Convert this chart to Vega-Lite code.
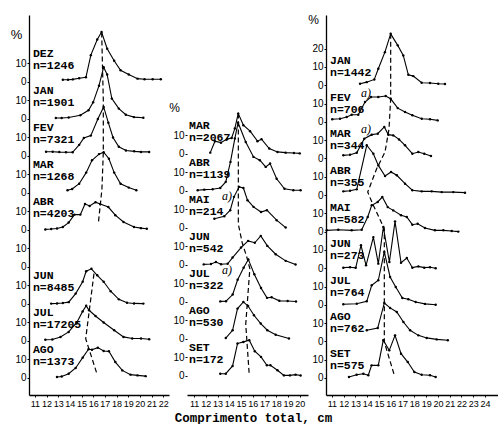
{
"$schema": "https://vega.github.io/schema/vega-lite/v6.json",
"background": "white",
"padding": {"left": 10, "top": 13, "right": 0, "bottom": 0},
"autosize": {"type": "pad"},
"bounds": "flush",
"spacing": 18,
"config": {
 "view": {"stroke": null},
 "axis": {"domainColor": "black", "tickColor": "black", "labelColor": "black", "titleColor": "black", "grid": false, "labelFont": "Liberation Sans Narrow, Liberation Sans", "labelFontSize": 10, "domainWidth": 1.3, "tickWidth": 1, "labelOverlap": false, "labelFlush": false, "tickCount": 60},
 "axisX": {"labelFontSize": 9},
 "text": {"color": "black"}
},
"datasets": {
 "Lm": [
  {"m": "DEZ", "n": "n=1246", "slot": 8},
  {"m": "JAN", "n": "n=1901", "slot": 7},
  {"m": "FEV", "n": "n=7321", "slot": 6},
  {"m": "MAR", "n": "n=1268", "slot": 5},
  {"m": "ABR", "n": "n=4203", "slot": 4},
  {"m": "JUN", "n": "n=8485", "slot": 2},
  {"m": "JUL", "n": "n=17205", "slot": 1},
  {"m": "AGO", "n": "n=1373", "slot": 0}
 ],
 "Mm": [
  {"m": "MAR", "n": "n=2067", "slot": 6, "a": ""},
  {"m": "ABR", "n": "n=1139", "slot": 5, "a": ""},
  {"m": "MAI", "n": "n=214", "slot": 4, "a": "a)"},
  {"m": "JUN", "n": "n=542", "slot": 3, "a": ""},
  {"m": "JUL", "n": "n=322", "slot": 2, "a": "a)"},
  {"m": "AGO", "n": "n=530", "slot": 1, "a": ""},
  {"m": "SET", "n": "n=172", "slot": 0, "a": ""}
 ],
 "Rm": [
  {"m": "JAN", "n": "n=1442", "slot": 8, "a": ""},
  {"m": "FEV", "n": "n=706", "slot": 7, "a": "a)"},
  {"m": "MAR", "n": "n=344", "slot": 6, "a": "a)"},
  {"m": "ABR", "n": "n=355", "slot": 5, "a": ""},
  {"m": "MAI", "n": "n=582", "slot": 4, "a": ""},
  {"m": "JUN", "n": "n=273", "slot": 3, "a": ""},
  {"m": "JUL", "n": "n=764", "slot": 2, "a": ""},
  {"m": "AGO", "n": "n=762", "slot": 1, "a": ""},
  {"m": "SET", "n": "n=575", "slot": 0, "a": ""}
 ],
 "Lc": [
  {"m":"DEZ","x":13.4,"v":1.2},{"m":"DEZ","x":13.85,"v":1.2},{"m":"DEZ","x":14.25,"v":1.4},{"m":"DEZ","x":14.8,"v":2.0},{"m":"DEZ","x":15.38,"v":2.5},{"m":"DEZ","x":15.8,"v":14.5},{"m":"DEZ","x":16.35,"v":23},{"m":"DEZ","x":16.72,"v":27},{"m":"DEZ","x":17.2,"v":18},{"m":"DEZ","x":17.8,"v":11.5},{"m":"DEZ","x":18.35,"v":6.3},{"m":"DEZ","x":19.05,"v":4},{"m":"DEZ","x":19.8,"v":1.8},{"m":"DEZ","x":20.4,"v":1.5},{"m":"DEZ","x":21.1,"v":1.5},{"m":"DEZ","x":21.8,"v":1.5},
  {"m":"JAN","x":12.8,"v":0.5},{"m":"JAN","x":13.3,"v":0.5},{"m":"JAN","x":13.9,"v":0.8},{"m":"JAN","x":14.9,"v":2},{"m":"JAN","x":15.6,"v":4.7},{"m":"JAN","x":16.0,"v":9},{"m":"JAN","x":16.5,"v":18},{"m":"JAN","x":16.9,"v":28},{"m":"JAN","x":17.2,"v":24},{"m":"JAN","x":17.6,"v":11},{"m":"JAN","x":18.2,"v":5.6},{"m":"JAN","x":18.8,"v":2.3},{"m":"JAN","x":19.5,"v":1},{"m":"JAN","x":20.3,"v":0.7},
  {"m":"FEV","x":11.96,"v":2.3},{"m":"FEV","x":12.53,"v":2.3},{"m":"FEV","x":13.1,"v":2.1},{"m":"FEV","x":13.67,"v":2},{"m":"FEV","x":14.24,"v":2},{"m":"FEV","x":14.8,"v":6},{"m":"FEV","x":15.2,"v":9.7},{"m":"FEV","x":15.8,"v":11},{"m":"FEV","x":16.4,"v":20},{"m":"FEV","x":16.9,"v":26.5},{"m":"FEV","x":17.3,"v":18},{"m":"FEV","x":17.7,"v":10},{"m":"FEV","x":18.2,"v":5},{"m":"FEV","x":18.81,"v":3},{"m":"FEV","x":19.52,"v":2.5},{"m":"FEV","x":20.1,"v":2.2},{"m":"FEV","x":20.8,"v":2.2},
  {"m":"MAR","x":13.8,"v":1.5},{"m":"MAR","x":14.2,"v":2.2},{"m":"MAR","x":14.8,"v":5},{"m":"MAR","x":15.4,"v":11},{"m":"MAR","x":15.9,"v":17.7},{"m":"MAR","x":16.5,"v":21},{"m":"MAR","x":16.9,"v":22},{"m":"MAR","x":17.35,"v":18.5},{"m":"MAR","x":17.8,"v":11},{"m":"MAR","x":18.35,"v":5},{"m":"MAR","x":19.05,"v":2.9},{"m":"MAR","x":19.7,"v":1.5},
  {"m":"ABR","x":11.9,"v":0.3},{"m":"ABR","x":12.4,"v":0.5},{"m":"ABR","x":12.9,"v":0.8},{"m":"ABR","x":13.4,"v":1.6},{"m":"ABR","x":13.9,"v":4},{"m":"ABR","x":14.4,"v":8.3},{"m":"ABR","x":14.9,"v":8.3},{"m":"ABR","x":15.3,"v":14},{"m":"ABR","x":15.7,"v":13},{"m":"ABR","x":16.2,"v":15},{"m":"ABR","x":16.6,"v":14},{"m":"ABR","x":17.3,"v":12.4},{"m":"ABR","x":17.9,"v":8},{"m":"ABR","x":18.6,"v":4.3},{"m":"ABR","x":19.5,"v":1.6},{"m":"ABR","x":20.1,"v":1},{"m":"ABR","x":20.6,"v":0.7},
  {"m":"JUN","x":12.4,"v":0.2},{"m":"JUN","x":12.9,"v":0.3},{"m":"JUN","x":13.4,"v":0.5},{"m":"JUN","x":13.9,"v":1},{"m":"JUN","x":14.5,"v":5.6},{"m":"JUN","x":15.1,"v":12},{"m":"JUN","x":15.4,"v":17.7},{"m":"JUN","x":15.85,"v":19},{"m":"JUN","x":16.35,"v":15.5},{"m":"JUN","x":16.9,"v":12},{"m":"JUN","x":17.5,"v":6.9},{"m":"JUN","x":18.2,"v":2.5},{"m":"JUN","x":18.9,"v":0.7},{"m":"JUN","x":19.5,"v":0.3},{"m":"JUN","x":20.3,"v":0.2},
  {"m":"JUL","x":11.9,"v":0.7},{"m":"JUL","x":12.5,"v":0.8},{"m":"JUL","x":13.2,"v":2.2},{"m":"JUL","x":13.9,"v":4.9},{"m":"JUL","x":14.6,"v":10},{"m":"JUL","x":15.1,"v":16},{"m":"JUL","x":15.4,"v":19},{"m":"JUL","x":15.65,"v":16.6},{"m":"JUL","x":16.2,"v":13.5},{"m":"JUL","x":16.9,"v":10},{"m":"JUL","x":17.8,"v":5.8},{"m":"JUL","x":18.6,"v":2.2},{"m":"JUL","x":19.35,"v":1.3},{"m":"JUL","x":20.1,"v":1.3},{"m":"JUL","x":20.8,"v":0.9},
  {"m":"AGO","x":12.9,"v":0.5},{"m":"AGO","x":13.3,"v":0.8},{"m":"AGO","x":13.9,"v":2.3},{"m":"AGO","x":14.5,"v":5.4},{"m":"AGO","x":15.1,"v":11},{"m":"AGO","x":15.6,"v":15.5},{"m":"AGO","x":15.9,"v":15.3},{"m":"AGO","x":16.4,"v":16.4},{"m":"AGO","x":16.9,"v":14.6},{"m":"AGO","x":17.35,"v":14.4},{"m":"AGO","x":17.9,"v":8.6},{"m":"AGO","x":18.5,"v":4.1},{"m":"AGO","x":19.2,"v":1.8},{"m":"AGO","x":19.8,"v":1.4},{"m":"AGO","x":20.5,"v":1}
 ],
 "Mc": [
  {"m":"MAR","x":12.38,"v":0.7},{"m":"MAR","x":12.78,"v":6.9},{"m":"MAR","x":13.29,"v":6.1},{"m":"MAR","x":13.8,"v":8},{"m":"MAR","x":14.2,"v":8.6},{"m":"MAR","x":14.47,"v":13.7},{"m":"MAR","x":14.76,"v":21.8},{"m":"MAR","x":15.2,"v":15.5},{"m":"MAR","x":15.77,"v":12.3},{"m":"MAR","x":16.4,"v":6.9},{"m":"MAR","x":16.74,"v":8},{"m":"MAR","x":17.4,"v":2.9},{"m":"MAR","x":18.1,"v":1.1},{"m":"MAR","x":18.8,"v":0.7},{"m":"MAR","x":19.5,"v":0.5},{"m":"MAR","x":20.0,"v":0.3},
  {"m":"ABR","x":11.31,"v":0.4},{"m":"ABR","x":11.87,"v":0.7},{"m":"ABR","x":12.58,"v":0.9},{"m":"ABR","x":13.23,"v":1.6},{"m":"ABR","x":13.7,"v":4.9},{"m":"ABR","x":14.1,"v":15.7},{"m":"ABR","x":14.47,"v":28.3},{"m":"ABR","x":14.75,"v":36.9},{"m":"ABR","x":15.4,"v":26.5},{"m":"ABR","x":16.06,"v":18.4},{"m":"ABR","x":16.6,"v":16.6},{"m":"ABR","x":17.1,"v":13},{"m":"ABR","x":17.47,"v":14.8},{"m":"ABR","x":18.03,"v":6.6},{"m":"ABR","x":18.7,"v":1.2},{"m":"ABR","x":19.45,"v":0.4},{"m":"ABR","x":20.07,"v":0.4},
  {"m":"MAI","x":12.73,"v":5},{"m":"MAI","x":13.57,"v":6.3},{"m":"MAI","x":14.08,"v":9.6},{"m":"MAI","x":14.4,"v":16.8},{"m":"MAI","x":14.84,"v":22.2},{"m":"MAI","x":15.2,"v":21.6},{"m":"MAI","x":15.55,"v":15},{"m":"MAI","x":16.06,"v":11.4},{"m":"MAI","x":16.7,"v":8.6},{"m":"MAI","x":17.2,"v":9.6},{"m":"MAI","x":18.03,"v":4.2},{"m":"MAI","x":18.8,"v":0.2},
  {"m":"JUN","x":11.82,"v":0.3},{"m":"JUN","x":12.44,"v":0.5},{"m":"JUN","x":12.86,"v":1.6},{"m":"JUN","x":13.3,"v":0.4},{"m":"JUN","x":13.86,"v":0.6},{"m":"JUN","x":14.28,"v":4},{"m":"JUN","x":15.0,"v":9.4},{"m":"JUN","x":15.6,"v":13},{"m":"JUN","x":16.17,"v":12},{"m":"JUN","x":16.68,"v":15.7},{"m":"JUN","x":17.24,"v":10.3},{"m":"JUN","x":17.95,"v":5.8},{"m":"JUN","x":18.8,"v":2.2},{"m":"JUN","x":19.64,"v":0.2},
  {"m":"JUL","x":13.23,"v":0.3},{"m":"JUL","x":13.72,"v":0.4},{"m":"JUL","x":14.29,"v":4},{"m":"JUL","x":14.71,"v":12},{"m":"JUL","x":15.22,"v":18.5},{"m":"JUL","x":15.62,"v":23},{"m":"JUL","x":16.13,"v":15},{"m":"JUL","x":16.7,"v":7.5},{"m":"JUL","x":17.21,"v":2.2},{"m":"JUL","x":17.6,"v":2.5},{"m":"JUL","x":18.26,"v":0.6},{"m":"JUL","x":18.97,"v":0.5},{"m":"JUL","x":19.68,"v":0.2},
  {"m":"AGO","x":13.7,"v":0.5},{"m":"AGO","x":14.28,"v":4.7},{"m":"AGO","x":14.7,"v":16.4},{"m":"AGO","x":15.2,"v":20},{"m":"AGO","x":15.6,"v":17.8},{"m":"AGO","x":16.1,"v":12.8},{"m":"AGO","x":16.68,"v":8.3},{"m":"AGO","x":17.24,"v":4.7},{"m":"AGO","x":17.95,"v":2.3},{"m":"AGO","x":19.08,"v":0.2},
  {"m":"SET","x":13.23,"v":1.2},{"m":"SET","x":13.7,"v":1.2},{"m":"SET","x":14.28,"v":5.4},{"m":"SET","x":14.7,"v":17.5},{"m":"SET","x":15.2,"v":18.4},{"m":"SET","x":15.7,"v":19.3},{"m":"SET","x":16.17,"v":13.4},{"m":"SET","x":16.7,"v":10.3},{"m":"SET","x":17.2,"v":5.8},{"m":"SET","x":17.5,"v":5.8},{"m":"SET","x":18.1,"v":3.1},{"m":"SET","x":18.65,"v":0.3},{"m":"SET","x":19.16,"v":0.3},{"m":"SET","x":19.64,"v":0.7},{"m":"SET","x":20.07,"v":0.2}
 ],
 "Rc": [
  {"m":"JAN","x":13.39,"v":0.8},{"m":"JAN","x":13.95,"v":1.7},{"m":"JAN","x":14.6,"v":3.2},{"m":"JAN","x":14.94,"v":9},{"m":"JAN","x":15.5,"v":18.1},{"m":"JAN","x":15.99,"v":28.1},{"m":"JAN","x":16.59,"v":21.8},{"m":"JAN","x":17.06,"v":16.3},{"m":"JAN","x":17.49,"v":5.7},{"m":"JAN","x":17.91,"v":5},{"m":"JAN","x":18.62,"v":1.4},{"m":"JAN","x":19.33,"v":1.2},{"m":"JAN","x":20.03,"v":0.8},{"m":"JAN","x":20.6,"v":0.7},
  {"m":"FEV","x":11.03,"v":1.4},{"m":"FEV","x":11.69,"v":1.7},{"m":"FEV","x":12.26,"v":2.6},{"m":"FEV","x":12.68,"v":3.9},{"m":"FEV","x":13.24,"v":3.9},{"m":"FEV","x":13.81,"v":10.8},{"m":"FEV","x":14.32,"v":13.6},{"m":"FEV","x":14.94,"v":13.6},{"m":"FEV","x":15.57,"v":14.1},{"m":"FEV","x":15.99,"v":12.6},{"m":"FEV","x":16.59,"v":7.5},{"m":"FEV","x":17.21,"v":5.4},{"m":"FEV","x":17.83,"v":3.6},{"m":"FEV","x":18.63,"v":1.7},{"m":"FEV","x":19.33,"v":1.4},{"m":"FEV","x":19.98,"v":0.8},
  {"m":"MAR","x":11.97,"v":1.7},{"m":"MAR","x":12.54,"v":2},{"m":"MAR","x":13.11,"v":3.1},{"m":"MAR","x":13.75,"v":10.8},{"m":"MAR","x":14.38,"v":13},{"m":"MAR","x":14.89,"v":13.5},{"m":"MAR","x":15.45,"v":17.2},{"m":"MAR","x":15.79,"v":13},{"m":"MAR","x":16.21,"v":12.6},{"m":"MAR","x":16.7,"v":10.4},{"m":"MAR","x":17.21,"v":7.2},{"m":"MAR","x":17.83,"v":2.6},{"m":"MAR","x":18.34,"v":3.5},{"m":"MAR","x":18.84,"v":2.6},{"m":"MAR","x":19.41,"v":1.3},
  {"m":"ABR","x":11.97,"v":2},{"m":"ABR","x":12.54,"v":2.3},{"m":"ABR","x":13.11,"v":3.1},{"m":"ABR","x":13.96,"v":27.2},{"m":"ABR","x":14.52,"v":22.6},{"m":"ABR","x":14.94,"v":16.2},{"m":"ABR","x":15.51,"v":10.4},{"m":"ABR","x":16.02,"v":12.6},{"m":"ABR","x":16.51,"v":10.8},{"m":"ABR","x":17.21,"v":6.2},{"m":"ABR","x":17.83,"v":2.6},{"m":"ABR","x":18.63,"v":2},{"m":"ABR","x":19.47,"v":2},{"m":"ABR","x":20.32,"v":1.6},{"m":"ABR","x":21.31,"v":1.6},{"m":"ABR","x":22.3,"v":1.3},
  {"m":"MAI","x":10.56,"v":0.7},{"m":"MAI","x":11.54,"v":1},{"m":"MAI","x":12.68,"v":0.7},{"m":"MAI","x":13.53,"v":1},{"m":"MAI","x":14.04,"v":8},{"m":"MAI","x":14.38,"v":14.4},{"m":"MAI","x":14.89,"v":16.2},{"m":"MAI","x":15.28,"v":18.9},{"m":"MAI","x":15.74,"v":13.4},{"m":"MAI","x":16.21,"v":11.6},{"m":"MAI","x":16.87,"v":8.9},{"m":"MAI","x":17.36,"v":8},{"m":"MAI","x":17.83,"v":3.8},{"m":"MAI","x":18.28,"v":4.3},{"m":"MAI","x":18.9,"v":2},{"m":"MAI","x":19.75,"v":0.7},{"m":"MAI","x":20.46,"v":0.7},{"m":"MAI","x":21.17,"v":0.3},{"m":"MAI","x":21.73,"v":0},
  {"m":"JUN","x":11.97,"v":0.3},{"m":"JUN","x":12.54,"v":0.5},{"m":"JUN","x":13.02,"v":0.2},{"m":"JUN","x":13.47,"v":12.5},{"m":"JUN","x":13.9,"v":1.6},{"m":"JUN","x":14.52,"v":17},{"m":"JUN","x":14.94,"v":2.5},{"m":"JUN","x":15.37,"v":22.5},{"m":"JUN","x":15.88,"v":3.4},{"m":"JUN","x":16.36,"v":25.6},{"m":"JUN","x":16.87,"v":3},{"m":"JUN","x":17.36,"v":5.6},{"m":"JUN","x":17.83,"v":0.3},{"m":"JUN","x":18.34,"v":1},{"m":"JUN","x":18.84,"v":0.3},{"m":"JUN","x":19.33,"v":0.5},{"m":"JUN","x":19.81,"v":0},
  {"m":"JUL","x":11.97,"v":0.3},{"m":"JUL","x":13.11,"v":0.6},{"m":"JUL","x":13.96,"v":1.9},{"m":"JUL","x":14.38,"v":10.7},{"m":"JUL","x":14.94,"v":13.4},{"m":"JUL","x":15.45,"v":28.9},{"m":"JUL","x":15.94,"v":15.2},{"m":"JUL","x":16.42,"v":9.7},{"m":"JUL","x":16.98,"v":3.7},{"m":"JUL","x":17.49,"v":3},{"m":"JUL","x":18.11,"v":1.5},{"m":"JUL","x":18.9,"v":0.5},{"m":"JUL","x":19.81,"v":0},
  {"m":"AGO","x":13.96,"v":6.1},{"m":"AGO","x":14.89,"v":7.3},{"m":"AGO","x":15.45,"v":21},{"m":"AGO","x":15.94,"v":18.3},{"m":"AGO","x":16.51,"v":16.1},{"m":"AGO","x":17.07,"v":10.6},{"m":"AGO","x":17.64,"v":6.1},{"m":"AGO","x":18.34,"v":3.3},{"m":"AGO","x":19.05,"v":1.9},{"m":"AGO","x":19.9,"v":1.1},{"m":"AGO","x":20.84,"v":0.6},
  {"m":"SET","x":12.45,"v":0.5},{"m":"SET","x":13.1,"v":1.8},{"m":"SET","x":13.67,"v":2.3},{"m":"SET","x":14.09,"v":1.5},{"m":"SET","x":14.37,"v":6.9},{"m":"SET","x":14.94,"v":6.9},{"m":"SET","x":15.36,"v":20.6},{"m":"SET","x":15.87,"v":15.1},{"m":"SET","x":16.36,"v":23.3},{"m":"SET","x":16.87,"v":13.3},{"m":"SET","x":17.44,"v":8.7},{"m":"SET","x":18.0,"v":3.3},{"m":"SET","x":18.62,"v":1.8},{"m":"SET","x":19.33,"v":1.5},{"m":"SET","x":19.81,"v":0.5}
 ],
 "Ld": [
  {"g":1,"x":16.73,"y":186.7},{"g":1,"x":16.87,"y":150},{"g":1,"x":16.87,"y":122},{"g":1,"x":16.75,"y":102},{"g":1,"x":16.45,"y":84},
  {"g":2,"x":16.07,"y":56.4},{"g":2,"x":15.36,"y":21.2},{"g":2,"x":16.36,"y":1.5}
 ],
 "Md": [
  {"g":1,"x":14.77,"y":141.8},{"g":1,"x":14.77,"y":82},{"g":1,"x":15.1,"y":72},{"g":1,"x":15.5,"y":64},{"g":1,"x":15.75,"y":58},{"g":1,"x":15.4,"y":28},{"g":1,"x":15.7,"y":0.4}
 ],
 "Rd": [
  {"g":1,"x":15.99,"y":188.1},{"g":1,"x":15.99,"y":152.6},{"g":1,"x":15.85,"y":136.2},{"g":1,"x":15.51,"y":123.5},{"g":1,"x":14.8,"y":114.4},{"g":1,"x":14.04,"y":101.6},{"g":1,"x":14.46,"y":95.2},{"g":1,"x":15.45,"y":81.6},{"g":1,"x":15.45,"y":19.7},{"g":1,"x":16.3,"y":1.5}
 ]
},
"hconcat": [
 {
  "width": 140, "height": 380,
  "layer": [
   {
    "data": {"name": "Lc"},
    "transform": [
     {"lookup": "m", "from": {"data": {"name": "Lm"}, "key": "m", "fields": ["slot"]}},
     {"calculate": "datum.v + 20*datum.slot", "as": "y"}
    ],
    "mark": {"type": "line", "color": "black", "strokeWidth": 1.1, "point": {"filled": true, "size": 6, "color": "black"}},
    "encoding": {
     "x": {"field": "x", "type": "quantitative", "scale": {"domain": [10.5, 22.5], "nice": false, "zero": false},
      "axis": {"values": [11,12,13,14,15,16,17,18,19,20,21,22], "format": "d", "labelFontSize": 9, "tickCount": 60, "labelOverlap": false, "title": null, "tickSize": 2, "labelPadding": 2}},
     "y": {"field": "y", "type": "quantitative", "scale": {"domain": [-9.2, 196.2], "nice": false, "zero": false},
      "axis": {"values": [0,10,20,30,40,50,60,70,80,90,100,110,120,130,140,150,160,170], "tickCount": 60, "labelOverlap": false, "labelExpr": "datum.value % 20 == 0 ? '0' : '10'", "tickSize": 2, "labelPadding": 1, "title": "%", "titleAngle": 0, "titleAlign": "center", "titleBaseline": "middle", "titleX": -13, "titleY": 19, "titleFontSize": 13, "titleFontWeight": "normal", "titleFont": "Liberation Sans"}},
     "detail": {"field": "m"}
    }
   },
   {
    "data": {"name": "Ld"},
    "mark": {"type": "line", "color": "black", "strokeWidth": 1.2, "strokeDash": [5, 3]},
    "encoding": {
     "x": {"field": "x", "type": "quantitative", "scale": {"domain": [10.5, 22.5], "nice": false, "zero": false}},
     "y": {"field": "y", "type": "quantitative", "scale": {"domain": [-9.2, 196.2], "nice": false, "zero": false}},
     "detail": {"field": "g"},
     "order": {"field": "y", "sort": "descending"}
    }
   },
   {
    "data": {"name": "Lm"},
    "transform": [{"calculate": "20*datum.slot", "as": "b"}],
    "mark": {"type": "text", "color": "black", "align": "left", "baseline": "middle", "dy": -28, "font": "Liberation Mono", "fontWeight": "bold", "fontSize": 11.5},
    "encoding": {
     "x": {"datum": 10.84, "type": "quantitative", "scale": {"domain": [10.5, 22.5], "nice": false, "zero": false}},
     "y": {"field": "b", "type": "quantitative", "scale": {"domain": [-9.2, 196.2], "nice": false, "zero": false}},
     "text": {"field": "m"}
    }
   },
   {
    "data": {"name": "Lm"},
    "transform": [{"calculate": "20*datum.slot", "as": "b"}],
    "mark": {"type": "text", "color": "black", "align": "left", "baseline": "middle", "dy": -16, "font": "Liberation Mono", "fontWeight": "bold", "fontSize": 11.5},
    "encoding": {
     "x": {"datum": 10.84, "type": "quantitative", "scale": {"domain": [10.5, 22.5], "nice": false, "zero": false}},
     "y": {"field": "b", "type": "quantitative", "scale": {"domain": [-9.2, 196.2], "nice": false, "zero": false}},
     "text": {"field": "n"}
    }
   },
   {
    "mark": {"type": "text", "color": "black", "font": "Liberation Sans", "fontSize": 15, "baseline": "middle"},
    "encoding": {
     "x": {"datum": 17.07, "type": "quantitative", "scale": {"domain": [10.5, 22.5], "nice": false, "zero": false}},
     "y": {"datum": 195, "type": "quantitative", "scale": {"domain": [-9.2, 196.2], "nice": false, "zero": false}},
     "text": {"value": "1979/80"}
    }
   },
   {
    "mark": {"type": "text", "color": "black", "font": "Liberation Sans", "fontSize": 13, "baseline": "middle"},
    "encoding": {
     "x": {"datum": 10.85, "type": "quantitative", "scale": {"domain": [10.5, 22.5], "nice": false, "zero": false}},
     "y": {"datum": -9.2, "type": "quantitative", "scale": {"domain": [-9.2, 196.2], "nice": false, "zero": false}},
     "text": {"value": "/"}
    }
   }
  ]
 },
 {
  "width": 121, "height": 380,
  "layer": [
   {
    "data": {"name": "Mc"},
    "transform": [
     {"lookup": "m", "from": {"data": {"name": "Mm"}, "key": "m", "fields": ["slot"]}},
     {"calculate": "datum.v + 20*datum.slot", "as": "y"}
    ],
    "mark": {"type": "line", "color": "black", "strokeWidth": 1.1, "point": {"filled": true, "size": 6, "color": "black"}},
    "encoding": {
     "x": {"field": "x", "type": "quantitative", "scale": {"domain": [10.4, 20.7], "nice": false, "zero": false},
      "axis": {"values": [11,12,13,14,15,16,17,18,19,20], "format": "d", "labelFontSize": 9, "tickCount": 60, "labelOverlap": false, "title": "Comprimento total, cm", "titleFont": "Liberation Mono", "titleFontWeight": "bold", "titleFontSize": 12.5, "titlePadding": 3, "titleX": 66, "tickSize": 2, "labelPadding": 2}},
     "y": {"field": "y", "type": "quantitative", "scale": {"domain": [-10.3, 195.1], "nice": false, "zero": false},
      "axis": {"domain": false, "values": [0,10,20,30,40,50,60,70,80,90,100,110,120,130], "tickCount": 60, "labelOverlap": false, "labelExpr": "datum.value % 20 == 0 ? '0' : '10'", "tickSize": 2, "labelPadding": 1, "title": "%", "titleAngle": 0, "titleAlign": "center", "titleBaseline": "middle", "titleX": -13, "titleY": 92, "titleFontSize": 12, "titleFontWeight": "normal", "titleFont": "Liberation Sans"}},
     "detail": {"field": "m"}
    }
   },
   {
    "mark": {"type": "rule", "color": "black", "strokeWidth": 1.3},
    "encoding": {
     "x": {"datum": 10.4, "type": "quantitative", "scale": {"domain": [10.4, 20.7], "nice": false, "zero": false}},
     "y": {"datum": -10.3, "type": "quantitative", "scale": {"domain": [-10.3, 195.1], "nice": false, "zero": false}},
     "y2": {"datum": 146}
    }
   },
   {
    "data": {"name": "Md"},
    "mark": {"type": "line", "color": "black", "strokeWidth": 1.2, "strokeDash": [5, 3]},
    "encoding": {
     "x": {"field": "x", "type": "quantitative", "scale": {"domain": [10.4, 20.7], "nice": false, "zero": false}},
     "y": {"field": "y", "type": "quantitative", "scale": {"domain": [-10.3, 195.1], "nice": false, "zero": false}},
     "detail": {"field": "g"},
     "order": {"field": "y", "sort": "descending"}
    }
   },
   {
    "data": {"name": "Mm"},
    "transform": [{"calculate": "20*datum.slot", "as": "b"}],
    "mark": {"type": "text", "color": "black", "align": "left", "baseline": "middle", "dy": -28, "font": "Liberation Mono", "fontWeight": "bold", "fontSize": 11.5},
    "encoding": {
     "x": {"datum": 10.57, "type": "quantitative", "scale": {"domain": [10.4, 20.7], "nice": false, "zero": false}},
     "y": {"field": "b", "type": "quantitative", "scale": {"domain": [-10.3, 195.1], "nice": false, "zero": false}},
     "text": {"field": "m"}
    }
   },
   {
    "data": {"name": "Mm"},
    "transform": [{"calculate": "20*datum.slot", "as": "b"}],
    "mark": {"type": "text", "color": "black", "align": "left", "baseline": "middle", "dy": -16, "font": "Liberation Mono", "fontWeight": "bold", "fontSize": 11.5},
    "encoding": {
     "x": {"datum": 10.57, "type": "quantitative", "scale": {"domain": [10.4, 20.7], "nice": false, "zero": false}},
     "y": {"field": "b", "type": "quantitative", "scale": {"domain": [-10.3, 195.1], "nice": false, "zero": false}},
     "text": {"field": "n"}
    }
   },
   {
    "data": {"name": "Mm"},
    "transform": [{"filter": "datum.a != ''"}, {"calculate": "20*datum.slot", "as": "b"}],
    "mark": {"type": "text", "color": "black", "align": "left", "baseline": "middle", "dx": 33, "dy": -32, "font": "Liberation Serif", "fontStyle": "italic", "fontSize": 12},
    "encoding": {
     "x": {"datum": 10.57, "type": "quantitative", "scale": {"domain": [10.4, 20.7], "nice": false, "zero": false}},
     "y": {"field": "b", "type": "quantitative", "scale": {"domain": [-10.3, 195.1], "nice": false, "zero": false}},
     "text": {"field": "a"}
    }
   },
   {
    "mark": {"type": "text", "color": "black", "font": "Liberation Sans", "fontSize": 15, "baseline": "middle"},
    "encoding": {
     "x": {"datum": 15.83, "type": "quantitative", "scale": {"domain": [10.4, 20.7], "nice": false, "zero": false}},
     "y": {"datum": 154.6, "type": "quantitative", "scale": {"domain": [-10.3, 195.1], "nice": false, "zero": false}},
     "text": {"value": "1984"}
    }
   },
   {
    "mark": {"type": "text", "color": "black", "font": "Liberation Sans", "fontSize": 13, "baseline": "middle"},
    "encoding": {
     "x": {"datum": 10.75, "type": "quantitative", "scale": {"domain": [10.4, 20.7], "nice": false, "zero": false}},
     "y": {"datum": -10.3, "type": "quantitative", "scale": {"domain": [-10.3, 195.1], "nice": false, "zero": false}},
     "text": {"value": "/"}
    }
   }
  ]
 },
 {
  "width": 172, "height": 380,
  "layer": [
   {
    "data": {"name": "Rc"},
    "transform": [
     {"lookup": "m", "from": {"data": {"name": "Rm"}, "key": "m", "fields": ["slot"]}},
     {"calculate": "datum.v + 20*datum.slot", "as": "y"}
    ],
    "mark": {"type": "line", "color": "black", "strokeWidth": 1.1, "point": {"filled": true, "size": 6, "color": "black"}},
    "encoding": {
     "x": {"field": "x", "type": "quantitative", "scale": {"domain": [10.5, 25.1], "nice": false, "zero": false},
      "axis": {"values": [11,12,13,14,15,16,17,18,19,20,21,22,23,24], "format": "d", "labelFontSize": 9, "tickCount": 60, "labelOverlap": false, "title": null, "tickSize": 2, "labelPadding": 2}},
     "y": {"field": "y", "type": "quantitative", "scale": {"domain": [-9.3, 198.4], "nice": false, "zero": false},
      "axis": {"values": [0,10,20,30,40,50,60,70,80,90,100,110,120,130,140,150,160,170,180], "tickCount": 60, "labelOverlap": false, "labelExpr": "datum.value == 180 ? '20' : (datum.value % 20 == 0 ? '0' : '10')", "tickSize": 2, "labelPadding": 1, "title": "%", "titleAngle": 0, "titleAlign": "center", "titleBaseline": "middle", "titleX": -13, "titleY": 4, "titleFontSize": 12, "titleFontWeight": "normal", "titleFont": "Liberation Sans"}},
     "detail": {"field": "m"}
    }
   },
   {
    "data": {"name": "Rd"},
    "mark": {"type": "line", "color": "black", "strokeWidth": 1.2, "strokeDash": [5, 3]},
    "encoding": {
     "x": {"field": "x", "type": "quantitative", "scale": {"domain": [10.5, 25.1], "nice": false, "zero": false}},
     "y": {"field": "y", "type": "quantitative", "scale": {"domain": [-9.3, 198.4], "nice": false, "zero": false}},
     "detail": {"field": "g"},
     "order": {"field": "y", "sort": "descending"}
    }
   },
   {
    "data": {"name": "Rm"},
    "transform": [{"calculate": "20*datum.slot", "as": "b"}],
    "mark": {"type": "text", "color": "black", "align": "left", "baseline": "middle", "dy": -24, "font": "Liberation Mono", "fontWeight": "bold", "fontSize": 11.5},
    "encoding": {
     "x": {"datum": 10.84, "type": "quantitative", "scale": {"domain": [10.5, 25.1], "nice": false, "zero": false}},
     "y": {"field": "b", "type": "quantitative", "scale": {"domain": [-9.3, 198.4], "nice": false, "zero": false}},
     "text": {"field": "m"}
    }
   },
   {
    "data": {"name": "Rm"},
    "transform": [{"calculate": "20*datum.slot", "as": "b"}],
    "mark": {"type": "text", "color": "black", "align": "left", "baseline": "middle", "dy": -12, "font": "Liberation Mono", "fontWeight": "bold", "fontSize": 11.5},
    "encoding": {
     "x": {"datum": 10.84, "type": "quantitative", "scale": {"domain": [10.5, 25.1], "nice": false, "zero": false}},
     "y": {"field": "b", "type": "quantitative", "scale": {"domain": [-9.3, 198.4], "nice": false, "zero": false}},
     "text": {"field": "n"}
    }
   },
   {
    "data": {"name": "Rm"},
    "transform": [{"filter": "datum.a != ''"}, {"calculate": "20*datum.slot", "as": "b"}],
    "mark": {"type": "text", "color": "black", "align": "left", "baseline": "middle", "dx": 31, "dy": -29, "font": "Liberation Serif", "fontStyle": "italic", "fontSize": 12},
    "encoding": {
     "x": {"datum": 10.84, "type": "quantitative", "scale": {"domain": [10.5, 25.1], "nice": false, "zero": false}},
     "y": {"field": "b", "type": "quantitative", "scale": {"domain": [-9.3, 198.4], "nice": false, "zero": false}},
     "text": {"field": "a"}
    }
   },
   {
    "mark": {"type": "text", "color": "black", "font": "Liberation Sans", "fontSize": 15, "baseline": "middle"},
    "encoding": {
     "x": {"datum": 17.2, "type": "quantitative", "scale": {"domain": [10.5, 25.1], "nice": false, "zero": false}},
     "y": {"datum": 197.3, "type": "quantitative", "scale": {"domain": [-9.3, 198.4], "nice": false, "zero": false}},
     "text": {"value": "1985"}
    }
   },
   {
    "mark": {"type": "text", "color": "black", "font": "Liberation Sans", "fontSize": 13, "baseline": "middle"},
    "encoding": {
     "x": {"datum": 10.85, "type": "quantitative", "scale": {"domain": [10.5, 25.1], "nice": false, "zero": false}},
     "y": {"datum": -9.3, "type": "quantitative", "scale": {"domain": [-9.3, 198.4], "nice": false, "zero": false}},
     "text": {"value": "/"}
    }
   }
  ]
 }
]
}
